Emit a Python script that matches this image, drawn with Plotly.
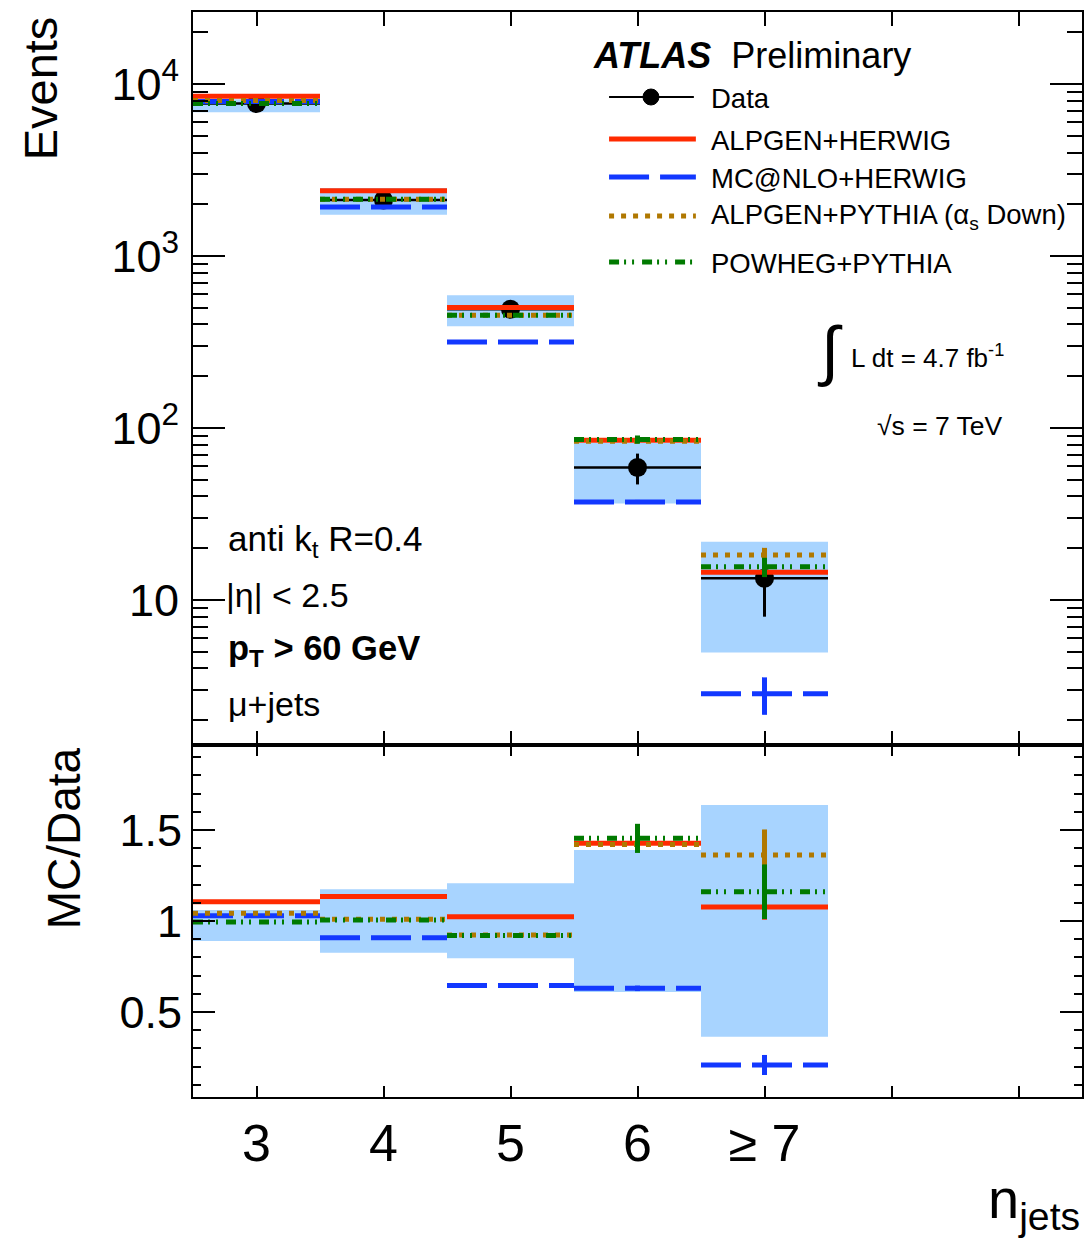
import plotly.graph_objects as go

# ---------------- data ----------------
njets = [3, 4, 5, 6, 7]
tick_labels = ["3", "4", "5", "6", "≥ 7"]
extra_ticks = [8, 9]

data_vals = [7700, 2120, 490, 59, 13.4]
data_err = [90, 45, 22, 12, 5.4]

alpgen_herwig = [8500, 2400, 502, 85, 14.5]
mcnlo_herwig = [7920, 1930, 316, 37.2, 2.85]
alpgen_pythia = [8020, 2140, 452, 83.8, 18.3]
powheg_pythia = [7700, 2140, 452, 85.8, 15.6]

alpgen_herwig_err = [0, 0, 0, 1.5, 0.9]
mcnlo_herwig_err = [0, 0, 0, 1.0, 0.7]
alpgen_pythia_err = [0, 0, 0, 2.0, 1.8]
powheg_pythia_err = [0, 0, 0, 4.7, 2.0]

band_lo = [6850, 1740, 391, 36.4, 4.96]
band_hi = [8160, 2490, 592, 82, 21.8]

ratio_alpgen_herwig = [1.106, 1.134, 1.024, 1.427, 1.077]
ratio_mcnlo_herwig = [1.029, 0.908, 0.645, 0.630, 0.209]
ratio_alpgen_pythia = [1.042, 1.010, 0.923, 1.420, 1.363]
ratio_powheg_pythia = [0.995, 1.005, 0.920, 1.454, 1.161]

ratio_alpgen_herwig_err = [0, 0, 0, 0.02, 0.07]
ratio_mcnlo_herwig_err = [0, 0, 0, 0.015, 0.055]
ratio_alpgen_pythia_err = [0, 0, 0, 0.03, 0.14]
ratio_powheg_pythia_err = [0, 0, 0, 0.08, 0.15]

ratio_band_lo = [0.890, 0.826, 0.795, 0.610, 0.364]
ratio_band_hi = [1.060, 1.174, 1.207, 1.390, 1.637]

# ---------------- style ----------------
RED = "#ff2a00"
BLUE = "#1238ff"
ORANGE = "#b07800"
GREEN = "#007a00"
BAND = "#a8d4ff"
FONT = "Liberation Sans"

styles = [
    ("ALPGEN+HERWIG", RED, "solid"),
    ("MC@NLO+HERWIG", BLUE, "40px,11px"),
    ("ALPGEN+PYTHIA (α<sub>s</sub> Down)", ORANGE, "5px,7px"),
    ("POWHEG+PYTHIA", GREEN, "10px,5px,2px,6px,2px,8px"),
]

bin_lo = [n - 0.5 for n in njets]
bin_hi = [n + 0.5 for n in njets]


def segs(vals):
    xs, ys = [], []
    for lo, hi, v in zip(bin_lo, bin_hi, vals):
        xs += [lo, hi, None]
        ys += [v, v, None]
    return xs, ys


def boxes(lo_vals, hi_vals):
    xs, ys = [], []
    for lo, hi, a, b in zip(bin_lo, bin_hi, lo_vals, hi_vals):
        xs += [lo, hi, hi, lo, lo, None]
        ys += [a, a, b, b, a, None]
    return xs, ys


fig = go.Figure()

# ---- top panel ----
bx, by = boxes(band_lo, band_hi)
fig.add_trace(go.Scatter(x=bx, y=by, fill="toself", fillcolor=BAND, mode="none",
                         xaxis="x2", yaxis="y", hoverinfo="skip", showlegend=False))

fig.add_trace(go.Scatter(
    x=njets, y=data_vals, mode="markers", xaxis="x2", yaxis="y",
    marker=dict(color="black", size=19, symbol="circle"),
    error_x=dict(type="constant", value=0.5, width=0, thickness=2.5, color="black"),
    error_y=dict(type="data", array=data_err, width=0, thickness=3, color="black"),
    showlegend=False, hoverinfo="skip"))

top_series = [alpgen_herwig, mcnlo_herwig, alpgen_pythia, powheg_pythia]
top_errs = [alpgen_herwig_err, mcnlo_herwig_err, alpgen_pythia_err, powheg_pythia_err]
for (name, col, dash), vals, errs in zip(styles, top_series, top_errs):
    xs, ys = segs(vals)
    fig.add_trace(go.Scatter(x=xs, y=ys, mode="lines", xaxis="x2", yaxis="y",
                             line=dict(color=col, width=5, dash=dash),
                             showlegend=False, hoverinfo="skip"))
    fig.add_trace(go.Scatter(x=njets, y=vals, mode="markers", xaxis="x2", yaxis="y",
                             marker=dict(size=0.1, color=col, opacity=0),
                             error_y=dict(type="data", array=errs, width=0, thickness=5, color=col),
                             showlegend=False, hoverinfo="skip"))

# ---- ratio panel ----
bx, by = boxes(ratio_band_lo, ratio_band_hi)
fig.add_trace(go.Scatter(x=bx, y=by, fill="toself", fillcolor=BAND, mode="none",
                         xaxis="x", yaxis="y2", hoverinfo="skip", showlegend=False))

ratio_series = [ratio_alpgen_herwig, ratio_mcnlo_herwig, ratio_alpgen_pythia, ratio_powheg_pythia]
ratio_errs = [ratio_alpgen_herwig_err, ratio_mcnlo_herwig_err, ratio_alpgen_pythia_err, ratio_powheg_pythia_err]
for (name, col, dash), vals, errs in zip(styles, ratio_series, ratio_errs):
    xs, ys = segs(vals)
    fig.add_trace(go.Scatter(x=xs, y=ys, mode="lines", xaxis="x", yaxis="y2",
                             line=dict(color=col, width=5, dash=dash),
                             showlegend=False, hoverinfo="skip"))
    fig.add_trace(go.Scatter(x=njets, y=vals, mode="markers", xaxis="x", yaxis="y2",
                             marker=dict(size=0.1, color=col, opacity=0),
                             error_y=dict(type="data", array=errs, width=0, thickness=5, color=col),
                             showlegend=False, hoverinfo="skip"))

# ---------------- layout ----------------
L, R, T, B = 193, 1084, 12, 1097
W, H = R - L, B - T


def pxx(x):
    return (x - L) / W


def pxy(y):
    return (B - y) / H


split = pxy(745)

minor_log = [m * 10 ** e for e in range(0, 5) for m in range(2, 10)]

fig.update_layout(
    width=1086, height=1240,
    margin=dict(l=L, r=1086 - R, t=T, b=1240 - B),
    paper_bgcolor="white", plot_bgcolor="white",
    font=dict(family=FONT, color="black"),
    xaxis=dict(domain=[0, 1], anchor="y2", range=[2.5, 9.5],
               tickmode="array", tickvals=njets, ticktext=tick_labels,
               ticks="inside", ticklen=11, tickwidth=2, tickcolor="black",
               minor=dict(tickmode="array", tickvals=extra_ticks, ticks="inside",
                          ticklen=11, tickwidth=2, tickcolor="black", showgrid=False),
               showline=True, linecolor="black", linewidth=2, mirror="ticks",
               showgrid=False, zeroline=False,
               tickfont=dict(size=52, family=FONT), ticklabelstandoff=0),
    xaxis2=dict(domain=[0, 1], anchor="y", matches="x", range=[2.5, 9.5],
                tickmode="array", tickvals=njets,
                minor=dict(tickmode="array", tickvals=extra_ticks, ticks="inside",
                           ticklen=14, tickwidth=2, tickcolor="black", showgrid=False),
                ticks="inside", ticklen=14, tickwidth=2, tickcolor="black",
                showline=True, linecolor="black", linewidth=2, mirror="ticks",
                showgrid=False, zeroline=False, showticklabels=False),
    yaxis=dict(domain=[split, 1], anchor="x2", type="log", range=[0.157, 4.419],
               tickmode="array", tickvals=[10, 100, 1000, 10000],
               ticktext=["10", "10<sup>2</sup>", "10<sup>3</sup>", "10<sup>4</sup>"],
               ticks="inside", ticklen=32, tickwidth=2, tickcolor="black",
               minor=dict(tickmode="array", tickvals=minor_log, ticks="inside",
                          ticklen=15, tickwidth=2, tickcolor="black", showgrid=False),
               showline=True, linecolor="black", linewidth=2, mirror="ticks",
               showgrid=False, zeroline=False,
               tickfont=dict(size=45, family=FONT), ticklabelstandoff=3),
    yaxis2=dict(domain=[0, split], anchor="x", range=[0.033, 1.967],
                tickmode="array", tickvals=[0.5, 1, 1.5], ticktext=["0.5", "1", "1.5"],
                ticks="inside", ticklen=22, tickwidth=2, tickcolor="black",
                minor=dict(dtick=0.1, ticks="inside", ticklen=8, tickwidth=2,
                           tickcolor="black", showgrid=False),
                showline=True, linecolor="black", linewidth=2, mirror="ticks",
                showgrid=False, zeroline=False,
                tickfont=dict(size=45, family=FONT), ticklabelstandoff=0),
)

ann = []


def text(x, y, s, size, xanchor="left", yanchor="middle", angle=0):
    ann.append(dict(x=pxx(x), y=pxy(y), xref="paper", yref="paper", text=s,
                    showarrow=False, xanchor=xanchor, yanchor=yanchor, textangle=angle,
                    font=dict(size=size, family=FONT, color="black")))


text(40, 14, "Events", 47, xanchor="center", yanchor="top", angle=-90)
text(64, 745, "MC/Data", 46, xanchor="center", yanchor="top", angle=-90)
text(1084, 1240, "n<sub>jets</sub>", 56, xanchor="right", yanchor="bottom")

text(592, 55, "<b><i>ATLAS</i></b>&nbsp;&nbsp;Preliminary", 36)

legend_y = [98, 140, 178, 217, 263]
legend_names = ["Data"] + [s[0] for s in styles]
for yy, nm in zip(legend_y, legend_names):
    text(710, yy, nm, 27.5)

text(226, 541, "anti k<sub>t</sub> R=0.4", 35)
text(224, 595, "|η| < 2.5", 34)
text(226, 650, "<b>p<sub>T</sub> > 60 GeV</b>", 34.5)
text(226, 704, "μ+jets", 34)

text(831, 350, "∫", 66, xanchor="center")
text(850, 357, "L dt = 4.7 fb<sup>-1</sup>", 26)
text(877, 426, "√s = 7 TeV", 26.5)

fig.update_layout(annotations=ann)

shapes = []
# data legend
shapes.append(dict(type="line", xref="paper", yref="paper", x0=pxx(610), x1=pxx(695),
                   y0=pxy(97), y1=pxy(97), line=dict(color="black", width=2)))
shapes.append(dict(type="circle", xref="paper", yref="paper", x0=pxx(644), x1=pxx(660),
                   y0=pxy(89), y1=pxy(105), fillcolor="black", line=dict(color="black", width=1)))
for yy, (nm, col, dash) in zip(legend_y[1:], styles):
    shapes.append(dict(type="line", xref="paper", yref="paper", x0=pxx(610), x1=pxx(697),
                       y0=pxy(yy - 1), y1=pxy(yy - 1), line=dict(color=col, width=5, dash=dash)))
fig.update_layout(shapes=shapes)

fig.write_html("out.html")
